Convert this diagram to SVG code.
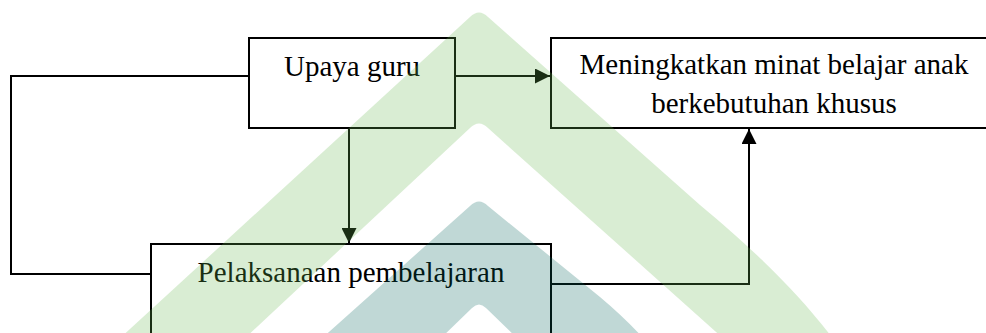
<svg xmlns="http://www.w3.org/2000/svg" width="986" height="333" viewBox="0 0 986 333">
  <style>
    .box { fill: none; stroke: #000; stroke-width: 2; }
    .lbl { font-family: "Liberation Serif", "Times New Roman", serif; font-size: 29px; fill: #000; text-anchor: middle; }
    .conn { fill: none; stroke: #000; stroke-width: 2; }
    .wm-green { fill: rgb(103,183,79); fill-opacity: 0.25; }
    .wm-teal { fill: rgb(4,100,92); fill-opacity: 0.25; }
  </style>
  <defs>
    <marker id="arrow" viewBox="0 0 10 10" refX="10" refY="5" markerWidth="7.5" markerHeight="7.5" markerUnits="strokeWidth" orient="auto">
      <path d="M0,0 L10,5 L0,10 Z" fill="#000"/>
    </marker>
  </defs>
  <rect width="986" height="333" fill="#fff"/>

  <g id="connectors">
    <path class="conn" d="M249,76 H11 V274 H151"/>
    <path class="conn" d="M455,76 H550" marker-end="url(#arrow)"/>
    <path class="conn" d="M349,128 V243" marker-end="url(#arrow)"/>
    <path class="conn" d="M551,284 H749 V129" marker-end="url(#arrow)"/>
  </g>

  <g id="node-upaya">
    <rect class="box" x="249" y="38" width="206" height="90"/>
    <text class="lbl" x="352" y="76">Upaya guru</text>
  </g>

  <g id="node-meningkatkan">
    <rect class="box" x="551" y="38" width="446" height="90"/>
    <text class="lbl" x="774" y="74">Meningkatkan minat belajar anak</text>
    <text class="lbl" x="774" y="113">berkebutuhan khusus</text>
  </g>

  <g id="node-pelaksanaan">
    <rect class="box" x="151" y="244" width="400" height="110"/>
    <text class="lbl" x="351" y="282">Pelaksanaan pembelajaran</text>
  </g>

  <g id="watermark">
    <path class="wm-green" d="M118,340 L470,17 Q479,8 488,17 L700,205 C760,255 800,295 834,340 L725,340 L488,128 Q479,119 470,128 L243,340 Z"/>
    <path class="wm-teal" d="M320,340 L470,206 Q479,197 488,206 L600,297 Q625,318 645,340 L519,340 L486,308 Q479,301 472,308 L439,340 Z"/>
  </g>
</svg>
